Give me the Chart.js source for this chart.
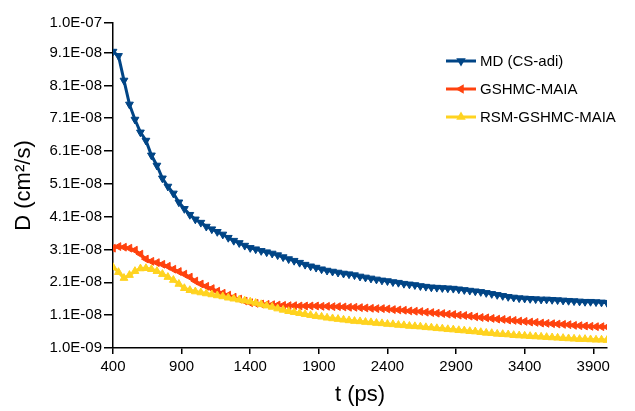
<!DOCTYPE html>
<html>
<head>
<meta charset="utf-8">
<title>D vs t</title>
<script src="https://cdn.jsdelivr.net/npm/chart.js@4/dist/chart.umd.min.js"></script>
<style>
  html, body { margin: 0; padding: 0; background: #fff; }
  #wrap { width: 635px; height: 411px; }
</style>
</head>
<body>
<div id="wrap"><canvas id="diffChart" width="635" height="411"></canvas></div>
<script>
// Time (ps)
const times = [
  400, 440, 480, 520, 560, 600, 640, 680, 720, 760,
  800, 840, 880, 920, 960, 1000, 1040, 1080, 1120, 1160,
  1200, 1240, 1280, 1320, 1360, 1400, 1440, 1480, 1520, 1560,
  1600, 1640, 1680, 1720, 1760, 1800, 1840, 1880, 1920, 1960,
  2000, 2040, 2080, 2120, 2160, 2200, 2240, 2280, 2320, 2360,
  2400, 2440, 2480, 2520, 2560, 2600, 2640, 2680, 2720, 2760,
  2800, 2840, 2880, 2920, 2960, 3000, 3040, 3080, 3120, 3160,
  3200, 3240, 3280, 3320, 3360, 3400, 3440, 3480, 3520, 3560,
  3600, 3640, 3680, 3720, 3760, 3800, 3840, 3880, 3920, 3960,
  4000
];

// D values in units of 1E-09 cm²/s
const mdCsAdi = [
  91.3, 90.0, 82.5, 75.2, 70.6, 66.7, 64.2, 59.7, 56.6, 52.7,
  50.2, 48.1, 45.4, 43.4, 41.6, 40.2, 39.2, 38.0, 37.2, 36.4,
  35.6, 34.6, 33.7, 33.0, 32.2, 31.5, 31.1, 30.6, 30.2, 29.8,
  29.3, 28.7, 28.1, 27.6, 27.0, 26.4, 25.9, 25.5, 25.0, 24.6,
  24.3, 24.0, 23.7, 23.5, 23.2, 22.8, 22.5, 22.2, 21.9, 21.6,
  21.4, 21.1, 20.9, 20.6, 20.4, 20.2, 19.9, 19.7, 19.5, 19.4,
  19.3, 19.2, 19.1, 18.9, 18.7, 18.5, 18.3, 18.1, 17.8, 17.5,
  17.2, 16.9, 16.6, 16.4, 16.2, 16.1, 16.0, 15.9, 15.8, 15.8,
  15.7, 15.6, 15.5, 15.4, 15.3, 15.2, 15.1, 15.1, 15.0, 14.9,
  14.8
];

const gshmcMaia = [
  31.4, 31.9, 31.7, 31.4, 30.8, 29.6, 28.1, 27.4, 27.0, 26.5,
  25.9, 25.0, 24.3, 23.5, 22.6, 21.4, 20.5, 19.8, 19.1, 18.3,
  17.7, 17.1, 16.5, 15.9, 15.3, 14.8, 14.6, 14.4, 14.3, 14.2,
  14.1, 14.0, 13.9, 13.9, 13.8, 13.8, 13.8, 13.8, 13.7, 13.7,
  13.6, 13.6, 13.5, 13.4, 13.4, 13.3, 13.2, 13.1, 13.0, 13.0,
  12.9, 12.7, 12.6, 12.5, 12.3, 12.2, 12.1, 11.9, 11.8, 11.6,
  11.5, 11.3, 11.2, 11.0, 10.9, 10.7, 10.5, 10.3, 10.2, 10.0,
  9.8, 9.7, 9.5, 9.4, 9.2, 9.1, 8.9, 8.8, 8.6, 8.5,
  8.4, 8.3, 8.2, 8.1, 7.9, 7.8, 7.7, 7.6, 7.5, 7.5,
  7.4
];

const rsmGshmcMaia = [
  25.6, 24.1, 22.3, 23.2, 24.4, 25.2, 25.3, 25.0, 24.4, 23.5,
  22.6, 21.7, 20.5, 19.2, 18.6, 18.2, 17.9, 17.6, 17.3, 17.0,
  16.7, 16.3, 16.0, 15.7, 15.4, 15.1, 14.7, 14.3, 13.9, 13.5,
  13.0, 12.6, 12.2, 11.9, 11.6, 11.3, 11.0, 10.7, 10.5, 10.2,
  10.0, 9.8, 9.6, 9.4, 9.2, 9.1, 8.9, 8.8, 8.6, 8.5,
  8.3, 8.2, 8.0, 7.9, 7.7, 7.6, 7.5, 7.3, 7.2, 7.0,
  6.9, 6.7, 6.6, 6.4, 6.3, 6.1, 6.0, 5.8, 5.6, 5.5,
  5.3, 5.2, 5.1, 4.9, 4.8, 4.7, 4.6, 4.5, 4.4, 4.3,
  4.2, 4.1, 4.0, 3.9, 3.8, 3.7, 3.7, 3.6, 3.5, 3.5,
  3.4
];

// Axis ticks
const xTicks = [400, 900, 1400, 1900, 2400, 2900, 3400, 3900];
const yTicks = [1, 11, 21, 31, 41, 51, 61, 71, 81, 91, 100];
const yTickLabels = ['1.0E-09', '1.1E-08', '2.1E-08', '3.1E-08', '4.1E-08', '5.1E-08',
  '6.1E-08', '7.1E-08', '8.1E-08', '9.1E-08', '1.0E-07'];

const seriesNames = ['MD (CS-adi)', 'GSHMC-MAIA', 'RSM-GSHMC-MAIA'];
const seriesColors = ['#004586', '#ff420e', '#ffd320'];
const seriesRotation = [180, 270, 0];

function toPoints(values) {
    return times.map((t, i) => ({ x: t, y: values[i] }));
}

function triangle(ctx, x, y, r, rotDeg) {
    let rad = rotDeg * Math.PI / 180;
    ctx.beginPath();
    for (let k = 0; k < 3; k++) {
        const px = x + Math.sin(rad) * r;
        const py = y - Math.cos(rad) * r;
        if (k === 0) ctx.moveTo(px, py); else ctx.lineTo(px, py);
        rad += 2 * Math.PI / 3;
    }
    ctx.closePath();
    ctx.fill();
}

// Legend drawn inside the plot, line + marker like the original
const insideLegend = {
    id: 'insideLegend',
    afterDraw(chart) {
        const ctx = chart.ctx;
        const rows = [61, 89, 117];
        ctx.save();
        ctx.font = '15px "Liberation Sans", Arial, sans-serif';
        ctx.textBaseline = 'middle';
        rows.forEach((y, i) => {
            ctx.strokeStyle = seriesColors[i];
            ctx.fillStyle = seriesColors[i];
            ctx.lineWidth = 3;
            ctx.beginPath();
            ctx.moveTo(446, y);
            ctx.lineTo(476, y);
            ctx.stroke();
            triangle(ctx, 461, y, 5.5, seriesRotation[i]);
            ctx.fillStyle = '#000';
            ctx.fillText(seriesNames[i], 480, y + 1);
        });
        ctx.restore();
    }
};

const sets = [mdCsAdi, gshmcMaia, rsmGshmcMaia].map((vals, i) => ({
    label: seriesNames[i],
    data: toPoints(vals),
    borderColor: seriesColors[i],
    backgroundColor: seriesColors[i],
    borderWidth: 3,
    pointStyle: 'triangle',
    pointRotation: seriesRotation[i],
    pointRadius: 4.5,
    pointBorderWidth: 1,
    pointBorderColor: seriesColors[i],
    pointBackgroundColor: seriesColors[i],
    tension: 0,
    order: 2 - i
}));

const ctx = document.getElementById('diffChart').getContext('2d');
const diffChart = new Chart(ctx, {
    type: 'line',
    data: { datasets: sets },
    options: {
        responsive: false,
        animation: false,
        devicePixelRatio: 1,
        layout: { padding: { left: 0, top: 23, right: 28, bottom: 0 } },
        plugins: {
            legend: { display: false },
            tooltip: { enabled: false }
        },
        scales: {
            x: {
                type: 'linear',
                min: 400,
                max: 4000,
                afterBuildTicks: (scale) => { scale.ticks = xTicks.map(v => ({ value: v })); },
                afterFit: (scale) => { scale.height = 63; },
                grid: { drawOnChartArea: false, tickLength: 6, color: '#000', lineWidth: 1.5 },
                border: { color: '#000', width: 1.5 },
                ticks: {
                    color: '#000',
                    padding: 4,
                    maxRotation: 0,
                    font: { family: '"Liberation Sans", Arial, sans-serif', size: 15 },
                    callback: (v) => String(v)
                },
                title: {
                    display: true,
                    text: 't (ps)',
                    color: '#000',
                    padding: { top: 0, bottom: 3 },
                    font: { family: '"Liberation Sans", Arial, sans-serif', size: 22 }
                }
            },
            y: {
                type: 'linear',
                min: 1,
                max: 100,
                afterBuildTicks: (scale) => { scale.ticks = yTicks.map(v => ({ value: v })); },
                afterFit: (scale) => { scale.width = 113; },
                grid: { drawOnChartArea: false, tickLength: 9, color: '#000', lineWidth: 1.5 },
                border: { color: '#000', width: 1.5 },
                ticks: {
                    color: '#000',
                    padding: 2,
                    font: { family: '"Liberation Sans", Arial, sans-serif', size: 15 },
                    callback: (v, i) => yTickLabels[i]
                },
                title: {
                    display: true,
                    text: 'D (cm²/s)',
                    color: '#000',
                    padding: { top: 11, bottom: 0 },
                    font: { family: '"Liberation Sans", Arial, sans-serif', size: 22 }
                }
            }
        }
    },
    plugins: [insideLegend]
});
</script>
</body>
</html>
